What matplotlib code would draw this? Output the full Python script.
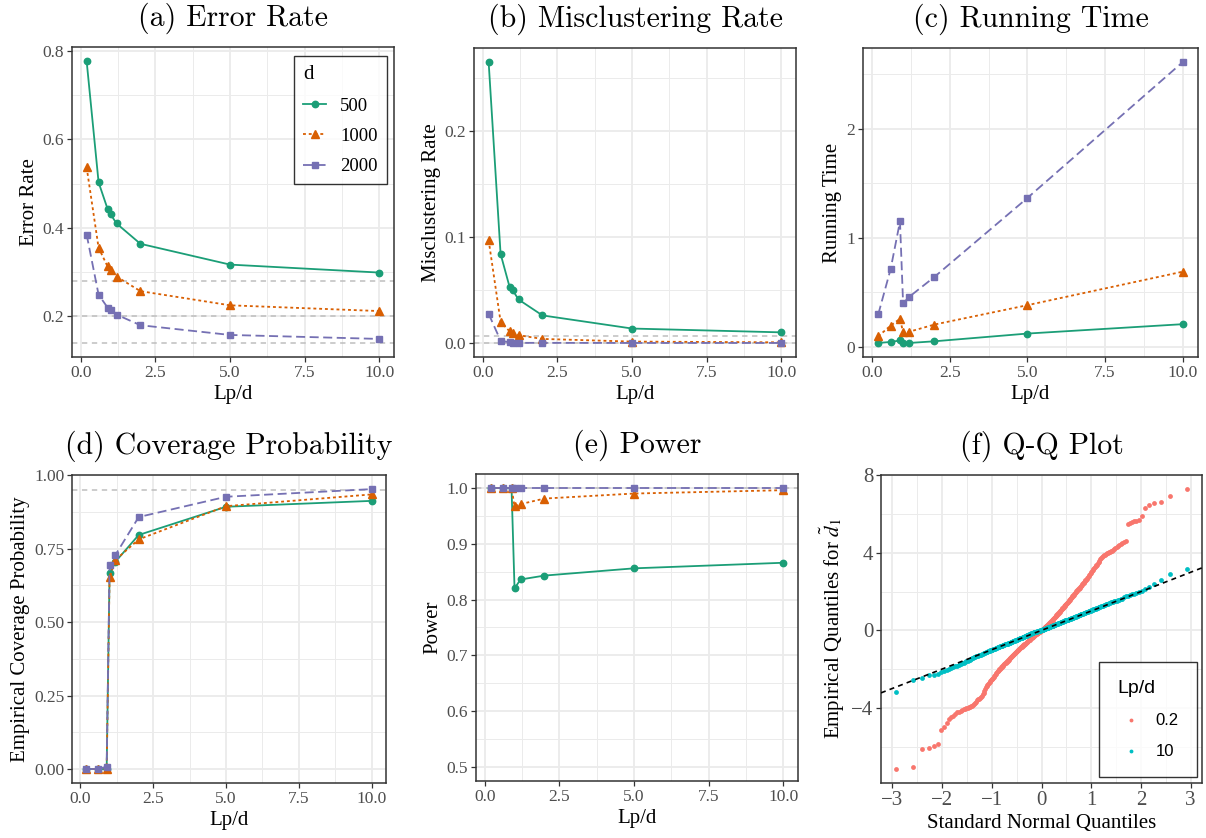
import matplotlib
matplotlib.use('Agg')
import matplotlib.pyplot as plt
from matplotlib.ticker import FixedLocator
from statistics import NormalDist

plt.rcParams['font.family'] = ['Liberation Serif', 'DejaVu Serif']
plt.rcParams['mathtext.fontset'] = 'stix'

# ---- data ----
lp_d = [0.2, 0.6, 0.9, 1.0, 1.2, 2, 5, 10]
dims = ['500', '1000', '2000']

err_500 = [0.777, 0.503, 0.443, 0.431, 0.410, 0.364, 0.317, 0.299]
err_1000 = [0.537, 0.355, 0.313, 0.304, 0.290, 0.257, 0.225, 0.212]
err_2000 = [0.385, 0.249, 0.220, 0.214, 0.204, 0.180, 0.158, 0.149]
err_ref = [0.28, 0.20, 0.14]

mis_500 = [0.265, 0.084, 0.053, 0.050, 0.041, 0.026, 0.0136, 0.010]
mis_1000 = [0.097, 0.020, 0.011, 0.0098, 0.0073, 0.0038, 0.0013, 0.0006]
mis_2000 = [0.0275, 0.0022, 0.0006, 0.0002, 0.0001, 0.0001, 0.0, 0.0]
mis_ref = [0.007, 0.0]

time_500 = [0.037, 0.046, 0.060, 0.037, 0.037, 0.052, 0.123, 0.209]
time_1000 = [0.098, 0.196, 0.258, 0.135, 0.140, 0.205, 0.383, 0.690]
time_2000 = [0.298, 0.715, 1.150, 0.400, 0.460, 0.640, 1.365, 2.610]

cov_500 = [0.0, 0.0, 0.0, 0.666, 0.705, 0.796, 0.892, 0.912]
cov_1000 = [0.0, 0.0, 0.0, 0.652, 0.711, 0.781, 0.894, 0.934]
cov_2000 = [0.0, 0.0, 0.008, 0.694, 0.728, 0.857, 0.926, 0.952]
cov_ref = [0.95]

pow_500 = [1.0, 1.0, 1.0, 0.820, 0.836, 0.843, 0.856, 0.866]
pow_1000 = [1.0, 1.0, 1.0, 0.967, 0.971, 0.981, 0.990, 0.996]
pow_2000 = [1.0, 1.0, 1.0, 1.0, 1.0, 1.0, 1.0, 1.0]
pow_ref = [1.0]
pow_limits = (0.5, 1.0)

# sorted sample quantiles of d~_1 (300 replications each)
qq_labels = ['0.2', '10']
qq_red = [
    -7.16, -7.05, -6.14, -6.05, -5.98, -5.89, -5.14, -5.00, -4.76, -4.60,
    -4.48, -4.40, -4.30, -4.24, -4.20, -4.15, -4.10, -4.07, -4.05, -4.03,
    -4.00, -3.98, -3.96, -3.93, -3.90, -3.86, -3.82, -3.77, -3.70, -3.62,
    -3.57, -3.52, -3.48, -3.44, -3.39, -3.30, -3.21, -3.12, -3.03, -2.95,
    -2.89, -2.83, -2.77, -2.71, -2.65, -2.61, -2.57, -2.53, -2.49, -2.45,
    -2.40, -2.35, -2.30, -2.25, -2.20, -2.16, -2.12, -2.08, -2.04, -2.00,
    -1.97, -1.94, -1.91, -1.88, -1.85, -1.82, -1.79, -1.76, -1.73, -1.70,
    -1.67, -1.65, -1.62, -1.60, -1.57, -1.54, -1.51, -1.48, -1.45, -1.42,
    -1.39, -1.37, -1.34, -1.31, -1.28, -1.25, -1.23, -1.20, -1.18, -1.15,
    -1.13, -1.10, -1.08, -1.05, -1.03, -1.01, -0.99, -0.96, -0.94, -0.92,
    -0.90, -0.88, -0.86, -0.84, -0.82, -0.80, -0.78, -0.76, -0.74, -0.72,
    -0.70, -0.68, -0.66, -0.64, -0.62, -0.60, -0.58, -0.56, -0.54, -0.52,
    -0.50, -0.48, -0.46, -0.44, -0.42, -0.40, -0.38, -0.36, -0.35, -0.33,
    -0.31, -0.29, -0.28, -0.26, -0.24, -0.23, -0.21, -0.19, -0.18, -0.16,
    -0.14, -0.13, -0.11, -0.10, -0.08, -0.07, -0.05, -0.04, -0.02, -0.01,
    0.01, 0.03, 0.05, 0.07, 0.09, 0.11, 0.13, 0.15, 0.17, 0.19,
    0.20, 0.22, 0.24, 0.26, 0.28, 0.30, 0.32, 0.34, 0.36, 0.38,
    0.40, 0.43, 0.45, 0.48, 0.50, 0.53, 0.55, 0.58, 0.61, 0.63,
    0.66, 0.69, 0.71, 0.74, 0.76, 0.79, 0.81, 0.84, 0.87, 0.89,
    0.92, 0.95, 0.97, 1.00, 1.02, 1.05, 1.07, 1.10, 1.13, 1.15,
    1.18, 1.21, 1.24, 1.26, 1.29, 1.32, 1.35, 1.38, 1.40, 1.43,
    1.46, 1.49, 1.52, 1.56, 1.59, 1.62, 1.65, 1.68, 1.72, 1.75,
    1.78, 1.81, 1.85, 1.88, 1.92, 1.95, 1.98, 2.01, 2.05, 2.08,
    2.11, 2.14, 2.18, 2.21, 2.25, 2.28, 2.31, 2.35, 2.38, 2.42,
    2.45, 2.49, 2.53, 2.58, 2.62, 2.66, 2.71, 2.76, 2.82, 2.87,
    2.92, 2.97, 3.02, 3.06, 3.11, 3.16, 3.21, 3.26, 3.30, 3.35,
    3.40, 3.47, 3.54, 3.60, 3.67, 3.74, 3.78, 3.83, 3.87, 3.91,
    3.95, 3.97, 4.00, 4.03, 4.05, 4.08, 4.12, 4.16, 4.21, 4.25,
    4.30, 4.35, 4.40, 4.45, 4.50, 4.56, 4.62, 5.48, 5.55, 5.60,
    5.63, 5.65, 5.68, 5.90, 6.30, 6.47, 6.57, 6.62, 6.94, 7.30,
]
qq_cyan = [
    -3.17, -2.57, -2.46, -2.32, -2.29, -2.25, -2.16, -2.12, -2.05, -1.99,
    -1.95, -1.90, -1.86, -1.82, -1.78, -1.74, -1.70, -1.67, -1.63, -1.60,
    -1.57, -1.54, -1.51, -1.48, -1.45, -1.42, -1.40, -1.37, -1.35, -1.33,
    -1.31, -1.29, -1.27, -1.25, -1.23, -1.21, -1.19, -1.17, -1.15, -1.13,
    -1.11, -1.10, -1.08, -1.07, -1.05, -1.04, -1.02, -1.01, -0.99, -0.98,
    -0.96, -0.95, -0.94, -0.92, -0.91, -0.90, -0.88, -0.87, -0.86, -0.85,
    -0.83, -0.82, -0.81, -0.80, -0.79, -0.78, -0.76, -0.75, -0.74, -0.73,
    -0.72, -0.71, -0.70, -0.69, -0.68, -0.67, -0.66, -0.65, -0.64, -0.63,
    -0.61, -0.60, -0.59, -0.58, -0.57, -0.56, -0.55, -0.54, -0.53, -0.52,
    -0.51, -0.50, -0.49, -0.48, -0.47, -0.46, -0.45, -0.44, -0.43, -0.42,
    -0.41, -0.40, -0.39, -0.38, -0.37, -0.36, -0.35, -0.34, -0.33, -0.32,
    -0.31, -0.30, -0.29, -0.28, -0.27, -0.26, -0.25, -0.24, -0.23, -0.22,
    -0.21, -0.20, -0.19, -0.18, -0.17, -0.16, -0.15, -0.14, -0.13, -0.12,
    -0.12, -0.11, -0.10, -0.10, -0.09, -0.08, -0.07, -0.07, -0.06, -0.05,
    -0.05, -0.04, -0.03, -0.03, -0.02, -0.01, -0.01, 0.00, 0.00, 0.01,
    0.02, 0.03, 0.03, 0.04, 0.05, 0.06, 0.07, 0.07, 0.08, 0.09,
    0.10, 0.10, 0.11, 0.12, 0.13, 0.14, 0.15, 0.15, 0.16, 0.17,
    0.18, 0.19, 0.20, 0.21, 0.22, 0.23, 0.24, 0.25, 0.26, 0.27,
    0.28, 0.29, 0.30, 0.31, 0.31, 0.32, 0.33, 0.34, 0.35, 0.36,
    0.37, 0.38, 0.39, 0.40, 0.40, 0.41, 0.42, 0.43, 0.44, 0.45,
    0.46, 0.47, 0.48, 0.49, 0.50, 0.51, 0.51, 0.52, 0.53, 0.54,
    0.55, 0.56, 0.57, 0.58, 0.59, 0.60, 0.61, 0.62, 0.63, 0.64,
    0.65, 0.66, 0.67, 0.68, 0.69, 0.70, 0.71, 0.73, 0.74, 0.75,
    0.76, 0.77, 0.78, 0.79, 0.80, 0.82, 0.83, 0.84, 0.85, 0.86,
    0.88, 0.89, 0.90, 0.91, 0.93, 0.94, 0.95, 0.97, 0.98, 0.99,
    1.00, 1.02, 1.03, 1.05, 1.06, 1.08, 1.09, 1.11, 1.12, 1.14,
    1.15, 1.17, 1.19, 1.21, 1.22, 1.24, 1.26, 1.28, 1.30, 1.32,
    1.34, 1.36, 1.38, 1.40, 1.42, 1.44, 1.46, 1.48, 1.50, 1.52,
    1.54, 1.56, 1.58, 1.60, 1.64, 1.70, 1.75, 1.79, 1.83, 1.86,
    1.90, 1.95, 1.99, 2.04, 2.11, 2.24, 2.38, 2.59, 2.92, 3.16,
]
ref_slope = 1.0
ref_intercept = 0.0

# ---- styles ----
colors = ['#1B9E77', '#D95F02', '#7570B3']
markers = ['o', '^', 's']
msizes = [4.6, 5.4, 4.6]
lstyles = ['-', (0, (1.6, 1.6)), (0, (5, 2.5))]
qq_colors = ['#F8766D', '#00BFC4']
REF_GREY = '#BEBEBE'
TICK_GREY = '#4D4D4D'
GRID = '#EBEBEB'


def style_axes(ax, xmaj, xmin, ymaj, ymin, xlab, ylab):
    ax.set_xticks(xmaj)
    ax.set_yticks(ymaj)
    ax.xaxis.set_minor_locator(FixedLocator(xmin))
    ax.yaxis.set_minor_locator(FixedLocator(ymin))
    ax.grid(which='major', color=GRID, lw=1.3)
    ax.grid(which='minor', color=GRID, lw=0.7)
    ax.set_axisbelow(True)
    ax.tick_params(which='major', direction='out', length=3.5, width=0.9,
                   color='#333333', labelcolor=TICK_GREY, labelsize=12.5, pad=2)
    ax.tick_params(which='minor', length=0)
    for s in ax.spines.values():
        s.set_color('#333333')
        s.set_linewidth(1.1)
    ax.set_xlabel(xlab, fontsize=15, labelpad=3)
    ax.set_ylabel(ylab, fontsize=15, labelpad=3)


def lp_axes(ax, series, refs, title, ylab, ymaj, ylabels, ymin, legend=False):
    for v in refs:
        ax.axhline(v, color=REF_GREY, lw=1.1, ls=(0, (3.5, 3)), zorder=1.5)
    for k, ys in enumerate(series):
        ax.plot(lp_d, ys, color=colors[k], marker=markers[k], ms=msizes[k],
                ls=lstyles[k], lw=1.3, label=dims[k], zorder=2 + k)
    style_axes(ax, [0, 2.5, 5, 7.5, 10], [1.25, 3.75, 6.25, 8.75],
               ymaj, ymin, 'Lp/d', ylab)
    ax.set_xticklabels(['0.0', '2.5', '5.0', '7.5', '10.0'])
    ax.set_yticklabels(ylabels)
    ax.set_title(title, fontsize=21.5, family='cmr10', pad=15)
    if legend:
        leg = ax.legend(title='d', loc='upper right', bbox_to_anchor=(0.978, 0.971),
                        borderaxespad=0, fontsize=13.5, title_fontsize=15,
                        frameon=True, fancybox=False, edgecolor='black',
                        handlelength=1.2, handletextpad=0.75, labelspacing=0.7,
                        borderpad=0.5, alignment='left')
        leg.get_frame().set_linewidth(1.0)


W, H = 1206, 838
fig = plt.figure(figsize=(W / 100, H / 100), dpi=100)


def box(l, r, t, b):
    return [l / W, 1 - b / H, (r - l) / W, (b - t) / H]


ax_a = fig.add_axes(box(72, 394, 47, 357))
ax_b = fig.add_axes(box(474, 796, 48, 357))
ax_c = fig.add_axes(box(863, 1198, 48, 357))
ax_d = fig.add_axes(box(72, 386, 475, 783))
ax_e = fig.add_axes(box(476, 798, 474, 781))
ax_f = fig.add_axes(box(881, 1202, 475, 783))

lp_axes(ax_a, [err_500, err_1000, err_2000], err_ref, '(a) Error Rate', 'Error Rate',
        [0.2, 0.4, 0.6, 0.8], ['0.2', '0.4', '0.6', '0.8'], [0.3, 0.5, 0.7], legend=True)
lp_axes(ax_b, [mis_500, mis_1000, mis_2000], mis_ref, '(b) Misclustering Rate',
        'Misclustering Rate', [0.0, 0.1, 0.2], ['0.0', '0.1', '0.2'], [0.05, 0.15, 0.25])
lp_axes(ax_c, [time_500, time_1000, time_2000], [], '(c) Running Time', 'Running Time',
        [0, 1, 2], ['0', '1', '2'], [0.5, 1.5, 2.5])
lp_axes(ax_d, [cov_500, cov_1000, cov_2000], cov_ref, '(d) Coverage Probability',
        'Empirical Coverage Probability', [0, 0.25, 0.5, 0.75, 1.0],
        ['0.00', '0.25', '0.50', '0.75', '1.00'], [0.125, 0.375, 0.625, 0.875])
lp_axes(ax_e, [pow_500, pow_1000, pow_2000], pow_ref, '(e) Power', 'Power',
        [0.5, 0.6, 0.7, 0.8, 0.9, 1.0], ['0.5', '0.6', '0.7', '0.8', '0.9', '1.0'],
        [0.55, 0.65, 0.75, 0.85, 0.95])
span = pow_limits[1] - pow_limits[0]
ax_e.set_ylim(pow_limits[0] - 0.05 * span, pow_limits[1] + 0.05 * span)

# ---- (f) Q-Q plot ----
n = len(qq_red)
theo = [NormalDist().inv_cdf((i - 0.5) / n) for i in range(1, n + 1)]
for k, ys in enumerate([qq_red, qq_cyan]):
    ax_f.scatter(theo, ys, s=12, color=qq_colors[k], linewidths=0, label=qq_labels[k],
                 zorder=2 + k)
ax_f.axline((0, ref_intercept), slope=ref_slope, color='black', lw=1.2,
            ls=(0, (3, 2.5)), zorder=5)
style_axes(ax_f, [-3, -2, -1, 0, 1, 2, 3], [-2.5, -1.5, -0.5, 0.5, 1.5, 2.5],
           [-4, 0, 4, 8], [-6, -2, 2, 6], 'Standard Normal Quantiles',
           r'Empirical Quantiles for $\tilde{d}_1$')
ax_f.set_xticklabels(['\u22123', '\u22122', '\u22121', '0', '1', '2', '3'], fontsize=15)
ax_f.set_yticklabels(['\u22124', '0', '4', '8'], fontsize=15)
ax_f.set_title('(f) Q-Q Plot', fontsize=21.5, family='cmr10', pad=15)
leg = ax_f.legend(title='Lp/d', loc='lower right', bbox_to_anchor=(0.984, 0.02),
                  borderaxespad=0, prop={'family': 'Liberation Sans', 'size': 12},
                  title_fontproperties={'family': 'Liberation Sans', 'size': 14},
                  frameon=True, fancybox=False, edgecolor='black', markerscale=0.8,
                  handlelength=1.7, handletextpad=0.6, labelspacing=0.95,
                  borderpad=1.1, alignment='left', scatterpoints=1)
leg.get_frame().set_linewidth(1.0)

fig.savefig('out.png', dpi=100)
